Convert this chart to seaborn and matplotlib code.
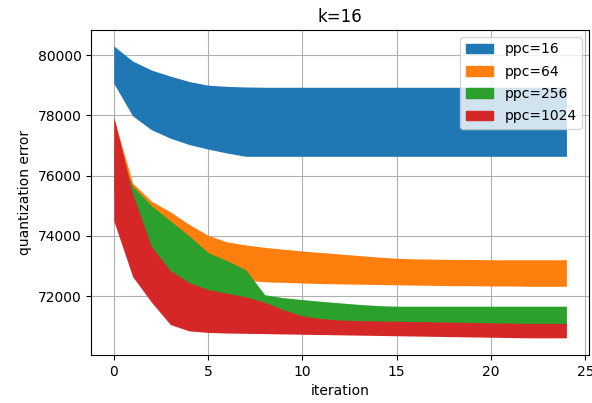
import numpy as np
import pandas as pd
import matplotlib
matplotlib.use("Agg")
import matplotlib.pyplot as plt
from matplotlib.patches import Patch
import seaborn as sns

iterations = list(range(25))
labels = ["ppc=16", "ppc=64", "ppc=256", "ppc=1024"]
colors = ["#1f77b4", "#ff7f0e", "#2ca02c", "#d62728"]

blue_hi = [80300, 79800, 79500, 79300, 79120, 79000, 78960, 78940, 78930, 78930,
           78930, 78930, 78930, 78930, 78930, 78930, 78930, 78930, 78930, 78930,
           78930, 78930, 78930, 78930, 78930]
blue_lo = [79060, 77980, 77520, 77240, 77030, 76880, 76750, 76640, 76640, 76640,
           76640, 76640, 76640, 76640, 76640, 76640, 76640, 76640, 76640, 76640,
           76640, 76640, 76640, 76640, 76640]
orange_hi = [77900, 75750, 75150, 74800, 74380, 74020, 73800, 73700, 73620, 73560,
             73500, 73450, 73400, 73350, 73300, 73260, 73240, 73230, 73220, 73220,
             73210, 73210, 73210, 73210, 73210]
orange_lo = [75500, 74500, 73800, 73400, 73100, 72900, 72700, 72530, 72480, 72460,
             72440, 72420, 72410, 72400, 72390, 72380, 72370, 72360, 72350, 72350,
             72340, 72340, 72330, 72330, 72330]
green_hi = [77000, 75650, 75000, 74500, 74000, 73450, 73180, 72880, 72050, 71950,
            71890, 71830, 71780, 71730, 71690, 71670, 71670, 71670, 71670, 71670,
            71670, 71670, 71670, 71670, 71670]
green_lo = [75500, 73800, 72700, 72000, 71700, 71500, 71400, 71350, 71300, 71200,
            71100, 71000, 70950, 70900, 70900, 70900, 70900, 70900, 70900, 70900,
            70900, 70900, 70900, 70900, 70900]
red_hi = [77960, 75400, 73650, 72850, 72450, 72220, 72100, 71980, 71800, 71550,
          71350, 71260, 71210, 71190, 71180, 71170, 71160, 71150, 71140, 71130,
          71120, 71110, 71100, 71100, 71100]
red_lo = [74500, 72650, 71800, 71060, 70850, 70800, 70780, 70770, 70760, 70750,
          70740, 70730, 70720, 70710, 70700, 70690, 70680, 70670, 70660, 70650,
          70640, 70630, 70620, 70620, 70620]

bands = {
    "ppc=16": (blue_lo, blue_hi),
    "ppc=64": (orange_lo, orange_hi),
    "ppc=256": (green_lo, green_hi),
    "ppc=1024": (red_lo, red_hi),
}
rows = []
for lab in labels:
    lo, hi = bands[lab]
    for i, a, b in zip(iterations, lo, hi):
        rows.append((i, a, lab))
        rows.append((i, b, lab))
df = pd.DataFrame(rows, columns=["iteration", "error", "ppc"])

fig = plt.figure(figsize=(5.92, 4.03), dpi=100)
ax = fig.add_axes([0.154, 0.119, 0.841, 0.8066])
sns.lineplot(data=df, x="iteration", y="error", hue="ppc", hue_order=labels,
             palette=colors, estimator="mean", errorbar=("pi", 100),
             linewidth=0, err_kws={"alpha": 1, "linewidth": 0}, legend=False, ax=ax)

ax.set_xlim(-1.2, 25.2)
ax.set_ylim(70050, 80830)
ax.set_xticks([0, 5, 10, 15, 20, 25])
ax.set_yticks([72000, 74000, 76000, 78000, 80000])
ax.grid(True, color="#b0b0b0", linewidth=0.8)
ax.set_axisbelow(True)
ax.set_xlabel("iteration")
ax.set_ylabel("quantization error")
ax.set_title("k=16", fontsize=12)
handles = [Patch(facecolor=c, edgecolor=c, label=l) for c, l in zip(colors, labels)]
ax.legend(handles=handles, loc="upper right", labelspacing=0.6)

fig.savefig("out.png", dpi=100)
